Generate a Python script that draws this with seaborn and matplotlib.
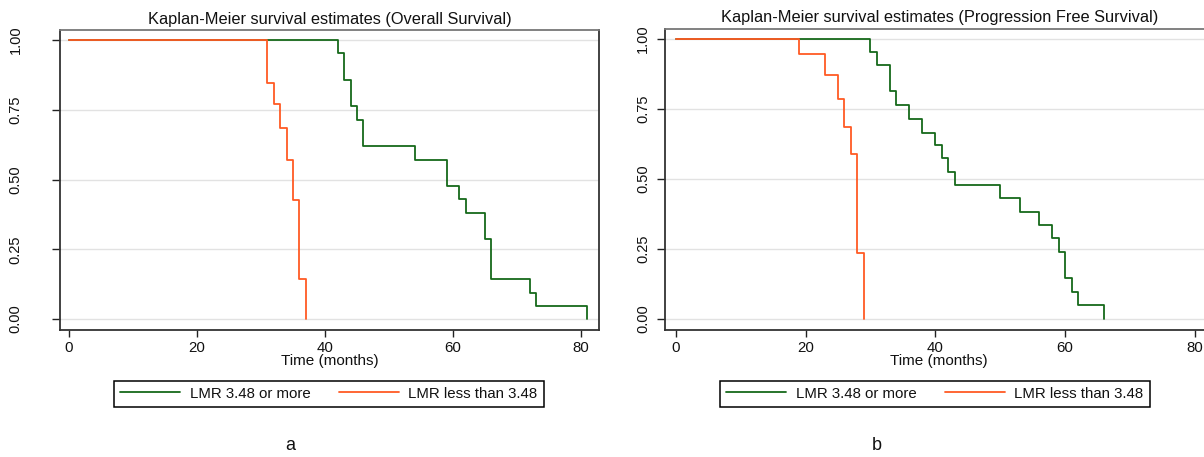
import numpy as np
import pandas as pd
import matplotlib
matplotlib.use("Agg")
import matplotlib.pyplot as plt
from matplotlib.lines import Line2D
import seaborn as sns

# ---- data ----
os_hi_time = [0, 42, 43, 44, 45, 46, 54, 59, 61, 62, 65, 66, 72, 73, 81]
os_hi_surv = [1.0, 0.952, 0.857, 0.762, 0.714, 0.619, 0.571, 0.476, 0.429, 0.381, 0.286, 0.143, 0.095, 0.048, 0.0]
os_lo_time = [0, 31, 32, 33, 34, 35, 36, 37]
os_lo_surv = [1.0, 0.847, 0.770, 0.685, 0.570, 0.428, 0.143, 0.0]

pfs_hi_time = [0, 30, 31, 33, 34, 36, 38, 40, 41, 42, 43, 50, 53, 56, 58, 59, 60, 61, 62, 66]
pfs_hi_surv = [1.0, 0.955, 0.909, 0.814, 0.763, 0.716, 0.666, 0.621, 0.576, 0.524, 0.479, 0.433, 0.383, 0.337, 0.288, 0.241, 0.145, 0.095, 0.049, 0.0]
pfs_lo_time = [0, 19, 23, 25, 26, 27, 28, 29]
pfs_lo_surv = [1.0, 0.945, 0.873, 0.785, 0.685, 0.589, 0.237, 0.0]

group_labels = ["LMR 3.48 or more", "LMR less than 3.48"]
titles = ["Kaplan-Meier survival estimates (Overall Survival)",
          "Kaplan-Meier survival estimates (Progression Free Survival)"]
panel_letters = ["a", "b"]
x_ticks = [0, 20, 40, 60, 80]
y_ticks = [0.0, 0.25, 0.5, 0.75, 1.0]
y_ticklabels = ["0.00", "0.25", "0.50", "0.75", "1.00"]
x_label = "Time (months)"

def make_df(hi_t, hi_s, lo_t, lo_s):
    return pd.concat([
        pd.DataFrame({"time": hi_t, "surv": hi_s, "group": group_labels[0]}),
        pd.DataFrame({"time": lo_t, "surv": lo_s, "group": group_labels[1]}),
    ], ignore_index=True)

df_os = make_df(os_hi_time, os_hi_surv, os_lo_time, os_lo_surv)
df_pfs = make_df(pfs_hi_time, pfs_hi_surv, pfs_lo_time, pfs_lo_surv)

# ---- style ----
sns.set_style("white")
plt.rcParams["font.family"] = ["Liberation Sans", "DejaVu Sans"]
plt.rcParams["text.color"] = "#111111"
plt.rcParams["axes.labelcolor"] = "#111111"
plt.rcParams["xtick.labelcolor"] = "#111111"
plt.rcParams["ytick.labelcolor"] = "#111111"

GREEN = "#16691a"
ORANGE = "#ff5a24"
palette = {group_labels[0]: GREEN, group_labels[1]: ORANGE}

W, H = 1204, 457
fig = plt.figure(figsize=(W / 100, H / 100), dpi=100)

def px_axes(x0, x1, ytop, ybot):
    return fig.add_axes([x0 / W, 1 - ybot / H, (x1 - x0) / W, (ybot - ytop) / H])

ax1 = px_axes(60, 599, 30, 330)
ax2 = px_axes(665.4, 1213, 29, 330)

panels = [
    (ax1, df_os, (-1.41, 82.8), (-0.039, 1.036), 21, 4.5, 290),
    (ax2, df_pfs, (-1.6, 82.8), (-0.039, 1.036), 5.0, 5.3, 877),
]

for i, (ax, df, xl, yl, ypad, tpad, letter_x) in enumerate(panels):
    for yv in y_ticks:
        ax.axhline(yv, color="#e2e2e2", lw=1.0, zorder=0)
    sns.lineplot(data=df, x="time", y="surv", hue="group",
                 hue_order=group_labels, palette=palette,
                 drawstyle="steps-post", estimator=None, sort=False,
                 linewidth=1.3, legend=False, ax=ax)
    ax.set_xlim(*xl)
    ax.set_ylim(*yl)
    ax.set_xticks(x_ticks)
    ax.set_xticklabels([str(t) for t in x_ticks])
    ax.set_yticks(y_ticks)
    ax.set_yticklabels(y_ticklabels)
    ax.tick_params(axis="x", direction="out", length=5, width=1, color="#222222",
                   labelsize=10.8, pad=3, bottom=True, labelcolor="#111111")
    ax.tick_params(axis="y", direction="out", length=6, width=1, color="#222222",
                   labelsize=10.5, pad=ypad, left=True, labelcolor="#111111")
    for lab in ax.get_yticklabels():
        lab.set_rotation(90)
        lab.set_va("center")
    ax.set_xlabel(x_label, fontsize=11, labelpad=-1, color="#111111")
    ax.set_ylabel("")
    ax.set_title(titles[i], fontsize=11.8, pad=tpad, color="#111111")
    for side, sp in ax.spines.items():
        sp.set_visible(True)
        sp.set_linewidth(1.3)
        sp.set_color("#333333")
    ax.spines["top"].set_color("#777777")
    ax.grid(False)

    handles = [Line2D([], [], color=GREEN, lw=1.3), Line2D([], [], color=ORANGE, lw=1.3)]
    cx = ((115 + 543) / 2 if i == 0 else (721 + 1149) / 2) / W
    fig.legend(handles, group_labels, loc="center", bbox_to_anchor=(cx, 1 - 393.5 / H),
               ncol=2, fontsize=10.8, frameon=True, fancybox=False, edgecolor="black",
               framealpha=1, handlelength=4.0, handletextpad=0.65, columnspacing=1.85,
               borderpad=0.4, borderaxespad=0, labelcolor="#111111")
    leg = fig.legends[-1]
    leg.get_frame().set_linewidth(1.1)

    fig.text(letter_x / W, 1 - 445 / H, panel_letters[i], ha="center", va="center",
             fontsize=13, color="#111111")

fig.savefig("out.png", dpi=100, facecolor="white")
